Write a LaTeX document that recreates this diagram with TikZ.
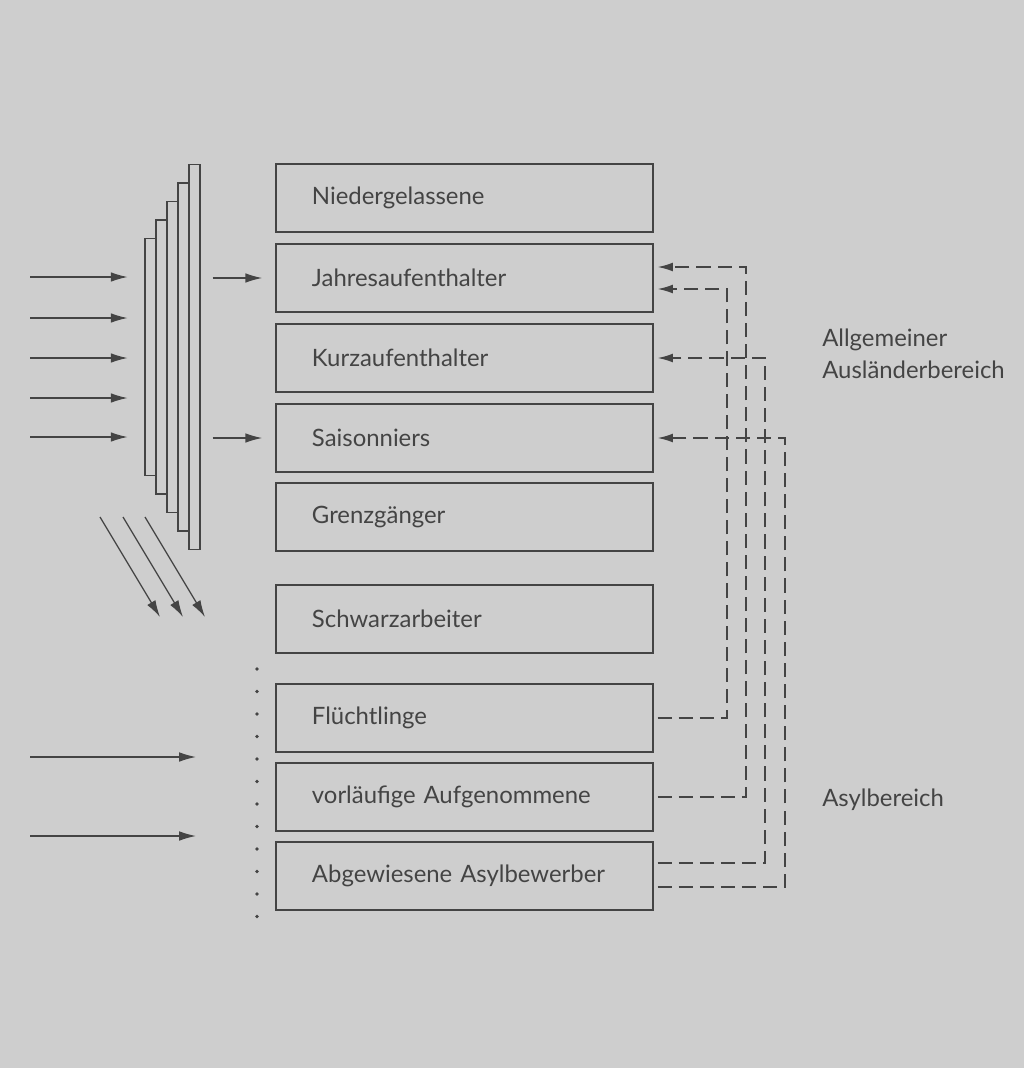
\documentclass[tikz,border=0pt]{standalone}
\usepackage{fontspec}
\setmainfont{Lato}
\usetikzlibrary{arrows.meta,positioning}
\definecolor{paper}{RGB}{206,206,206}
\definecolor{ink}{RGB}{68,68,68}
\tikzset{
  box/.style={draw=ink,line width=0.8pt,minimum width=9.425cm,minimum height=1.7cm,
    text width=7.625cm,inner xsep=0.9cm,align=left,text=ink,
    font=\fontsize{17}{20}\selectfont},
  strip/.style={draw=ink,line width=0.8pt,minimum width=0.275cm,inner sep=0pt},
  feed/.style={draw=ink,line width=0.9pt,-{Latex[length=4.2mm,width=2.4mm]}},
  back/.style={draw=ink,line width=1.1pt,dash pattern=on 10pt off 5pt,
    -{Latex[length=3.8mm,width=2.2mm]},shorten >=0.1cm,shorten <=0.1cm},
  area/.style={font=\fontsize{17}{23}\selectfont,text=ink,align=left,anchor=west,inner sep=0pt}
}
\begin{document}
\begin{tikzpicture}[x=0.025cm,y=-0.025cm]
  \useasboundingbox (0,0) rectangle (1024,1068);
  \fill[paper] (0,0) rectangle (1024,1068);
  % categories
  \node[box] (ni) at (464.5,198) {Niedergelassene};
  \node[box] (ja) at (464.5,278) {Jahresaufenthalter};
  \node[box] (ku) at (464.5,358) {Kurzaufenthalter};
  \node[box] (sa) at (464.5,438) {Saisonniers};
  \node[box] (gr) at (464.5,517) {Grenzgänger};
  \node[box] (sw) at (464.5,619) {Schwarzarbeiter};
  \node[box] (fl) at (464.5,718) {Flüchtlinge};
  \node[box] (vo) at (464.5,797) {vorläufige Aufgenommene};
  \node[box] (ab) at (464.5,876) {Abgewiesene Asylbewerber};
  % stacked filter
  \foreach \i in {1,...,5}
    \node[strip,minimum height=5cm+\i*0.925cm] (st\i) at ({139.5+11*\i},357) {};
  % inflow
  \foreach \y [count=\i] in {277,318,358,398,437} {
    \coordinate (src\i) at (30,\y);
    \draw[feed,shorten >=0.42cm] (src\i) -- (st1.west |- src\i);
  }
  \draw[feed,shorten <=0.3cm,shorten >=0.33cm] (st5.east |- ja.west) -- (ja.west);
  \draw[feed,shorten <=0.3cm,shorten >=0.33cm] (st5.east |- sa.west) -- (sa.west);
  \foreach \x [count=\i] in {100,123,145} {
    \coordinate (ds\i) at (\x,517);
    \coordinate (de\i) at (\x+60,617);
    \draw[feed] (ds\i) -- (de\i);
  }
  \foreach \y [count=\i] in {757,836} {
    \coordinate (as\i) at (30,\y);
    \coordinate (ae\i) at (196,\y);
    \draw[feed] (as\i) -- (ae\i);
  }
  \foreach \k in {0,...,11}
    \fill[ink] (257,{669+22.5*\k}) circle (0.045cm);
  % status changes
  \draw[back] (fl.east) -| (727,289) -- (ja.east |- 0,289);
  \draw[back] (vo.east) -| (746,267) -- (ja.east |- 0,267);
  \draw[back] ([yshift=0.325cm]ab.east) -| (765,358) -- (ku.east);
  \draw[back] ([yshift=-0.275cm]ab.east) -| (785,438) -- (sa.east);
  % areas
  \node[area] (allg) at (822,354) {Allgemeiner\\Ausländerbereich};
  \node[area] (asyl) at (822,800) {Asylbereich};
\end{tikzpicture}
\end{document}
